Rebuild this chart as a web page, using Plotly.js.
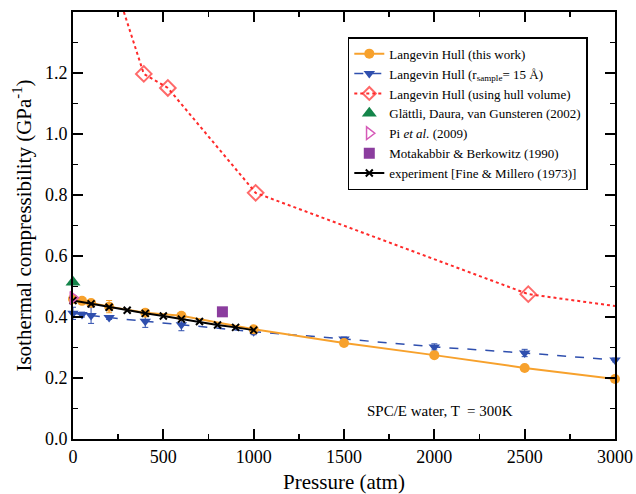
<!DOCTYPE html>
<html>
<head>
<meta charset="utf-8">
<script src="https://cdn.plot.ly/plotly-3.0.1.min.js"></script>
<style>html,body{margin:0;padding:0;background:#fff}#chart{width:636px;height:494px}</style>
</head>
<body>
<div id="chart"></div>
<script>
// Langevin Hull (this work)
var thisP = [0, 50, 100, 200, 400, 600, 1000, 1500, 2000, 2500, 3000];
var thisK = [0.459, 0.453, 0.446, 0.434, 0.414, 0.404, 0.360, 0.315, 0.275, 0.233, 0.197];
var thisErr = [0.010, 0.006, 0.006, 0.020, 0.010, 0.010, 0.006, 0.005, 0.004, 0.004, 0.004];
// Langevin Hull (r_sample = 15 Å)
var rsP = [0, 50, 100, 200, 400, 600, 1000, 1500, 2000, 2500, 3000];
var rsK = [0.412, 0.408, 0.405, 0.398, 0.386, 0.375, 0.352, 0.328, 0.302, 0.282, 0.259];
var rsErr = [0.020, 0.008, 0.026, 0.006, 0.020, 0.020, 0.010, 0.006, 0.010, 0.012, 0.006];
// Langevin Hull (using hull volume)
var hullP = [200, 392, 525, 1011, 2520, 3000];
var hullK = [1.55, 1.197, 1.151, 0.807, 0.475, 0.436];
// Glättli, Daura, van Gunsteren (2002)
var glP = [0];  var glK = [0.514];
// Pi et al. (2009)
var piP = [0];  var piK = [0.463];
// Motakabbir & Berkowitz (1990)
var moP = [827]; var moK = [0.417];
// experiment [Fine & Millero (1973)]
var exP = [0, 100, 200, 300, 400, 500, 600, 700, 800, 900, 1000];
var exK = [0.454, 0.443, 0.432, 0.422, 0.412, 0.403, 0.393, 0.385, 0.374, 0.366, 0.357];

// axis ticks
var yTickVals = [0, 0.2, 0.4, 0.6, 0.8, 1.0, 1.2];
var yMinorVals = [0.1, 0.3, 0.5, 0.7, 0.9, 1.1, 1.3];

var orange = '#f7a12c', blue = '#2f4fae', red = '#ff2a2a', green = '#14854a', pink = '#d65ab8', purple = '#8b3d9e';
var serif = 'Liberation Serif, Times New Roman, serif';

// hull series: the last (edge) point carries no marker
var hullSizes = hullP.map(function (p, i) { return i === hullP.length - 1 ? 0 : 12; });

var traces = [
  {x: hullP, y: hullK, name: 'Langevin Hull (using hull volume)', mode: 'lines+markers', legendrank: 3,
   line: {color: red, width: 2, dash: 'dot'},
   marker: {symbol: 'diamond-open', size: hullSizes, color: red, line: {width: 2, color: red}}},
  {x: rsP, y: rsK, name: 'Langevin Hull (r<sub>sample</sub>= 15 Å)', mode: 'lines+markers', legendrank: 2,
   line: {color: blue, width: 1.5, dash: 'dash'},
   error_y: {type: 'data', array: rsErr, color: blue, thickness: 1, width: 3},
   marker: {symbol: 'triangle-down', size: 10, color: blue}, cliponaxis: false},
  {x: thisP, y: thisK, name: 'Langevin Hull (this work)', mode: 'lines+markers', legendrank: 1,
   line: {color: orange, width: 2},
   error_y: {type: 'data', array: thisErr, color: orange, thickness: 1, width: 3},
   marker: {symbol: 'circle', size: 10, color: orange}, cliponaxis: false},
  {x: exP, y: exK, name: 'experiment [Fine & Millero (1973)]', mode: 'lines+markers', legendrank: 7,
   line: {color: '#000', width: 2},
   marker: {symbol: 'x-thin-open', size: 7, color: '#000', line: {width: 2, color: '#000'}}, cliponaxis: false},
  {x: glP, y: glK, name: 'Glättli, Daura, van Gunsteren (2002)', mode: 'markers', legendrank: 4,
   marker: {symbol: 'triangle-up', size: 13, color: green}, cliponaxis: false},
  {x: piP, y: piK, name: 'Pi <i>et al.</i> (2009)', mode: 'markers', legendrank: 5,
   marker: {symbol: 'triangle-right-open', size: 11, color: pink, line: {width: 1.5, color: pink}}, cliponaxis: false},
  {x: moP, y: moK, name: 'Motakabbir & Berkowitz (1990)', mode: 'markers', legendrank: 6,
   marker: {symbol: 'square', size: 11, color: purple}}
];

var axisCommon = {
  showline: true, linecolor: '#000', linewidth: 2, mirror: 'ticks',
  ticks: 'inside', ticklen: 10, tickwidth: 2, tickcolor: '#000',
  showgrid: false, zeroline: false,
  tickfont: {family: serif, size: 18, color: '#000'}
};

var layout = {
  width: 636, height: 494,
  margin: {l: 73, r: 21, t: 12, b: 55},
  paper_bgcolor: '#fff', plot_bgcolor: '#fff',
  font: {family: serif, color: '#000'},
  showlegend: true,
  legend: {
    x: 0.507, y: 0.941, xanchor: 'left', yanchor: 'top',
    bgcolor: '#fff', bordercolor: '#000', borderwidth: 1.5,
    font: {family: serif, size: 13, color: '#000'},
    itemwidth: 30, tracegroupgap: 0
  },
  xaxis: Object.assign({}, axisCommon, {
    range: [0, 3000], dtick: 500, tick0: 0,
    minor: {ticks: 'inside', ticklen: 5, tickwidth: 1.5, tickcolor: '#000', dtick: 250},
    title: {text: 'Pressure (atm)', font: {family: serif, size: 21, color: '#000'}, standoff: 10}
  }),
  yaxis: Object.assign({}, axisCommon, {
    range: [0, 1.4], tickmode: 'array', tickvals: yTickVals, tickformat: '.1f',
    minor: {ticks: 'inside', ticklen: 5, tickwidth: 1.5, tickcolor: '#000', tickmode: 'array', tickvals: yMinorVals},
    title: {text: 'Isothermal compressibility (GPa<sup>-1</sup>)', font: {family: serif, size: 21, color: '#000'}, standoff: 8}
  }),
  annotations: [{
    x: 2030, y: 0.092, xref: 'x', yref: 'y', showarrow: false,
    text: 'SPC/E water, T  = 300K',
    font: {family: serif, size: 15, color: '#000'}
  }]
};

Plotly.newPlot('chart', traces, layout, {displayModeBar: false, staticPlot: true});
</script>
</body>
</html>
